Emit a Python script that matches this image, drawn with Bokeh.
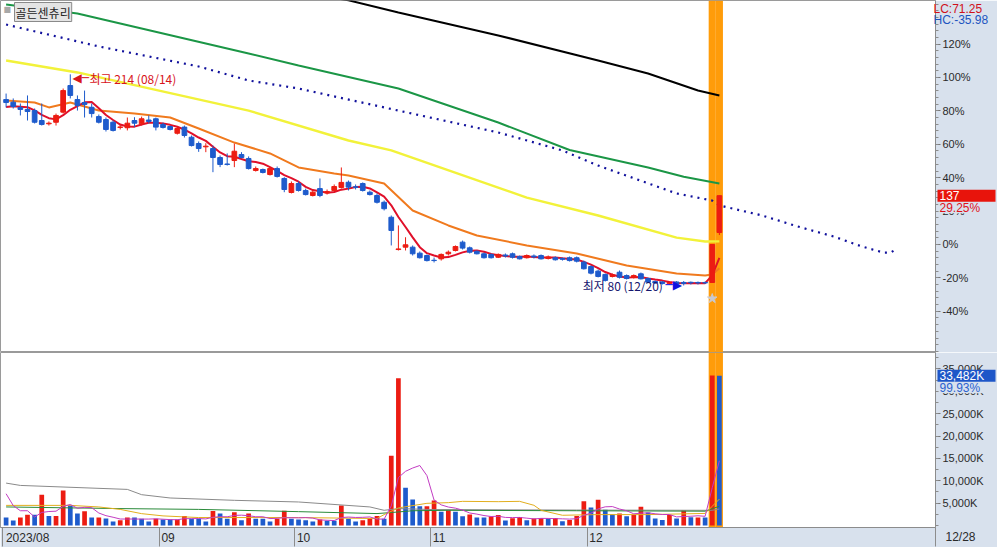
import pandas as pd
from bokeh.plotting import figure
from bokeh.layouts import column
from bokeh.models import Range1d, FixedTicker, Label, ColumnDataSource
from bokeh.core.properties import value
from bokeh.embed import file_html
from bokeh.resources import INLINE

# ---------------- data ----------------
title_text = "골든센츄리"
holidays = ["2023-08-15", "2023-09-28", "2023-09-29", "2023-10-02",
            "2023-10-03", "2023-10-09", "2023-12-25"]
days = [d for d in pd.bdate_range("2023-08-01", "2023-12-28")
        if d.strftime("%Y-%m-%d") not in holidays]

opens = [198.0, 196.3, 193.0, 191.7, 191.0, 184.7, 182.6, 183.6, 190.0, 206.9,
         198.0, 196.1, 193.1, 187.2, 185.3, 183.6, 180.3, 180.1, 184.7, 182.6,
         185.0, 185.8, 182.2, 180.9, 176.6, 180.5, 174.1, 170.1, 168.0, 166.9,
         161.2, 157.1, 159.3, 163.1, 160.6, 153.0, 153.6, 150.4, 154.2, 147.9,
         139.0, 144.7, 140.3, 137.1, 141.5, 138.7, 140.3, 142.2, 145.5, 142.6,
         144.7, 139.2, 137.1, 132.8, 123.3, 102.8, 104.3, 104.3, 100.5, 99.0,
         96.0, 96.9, 100.1, 102.2, 107.5, 103.9, 101.7, 100.1, 99.7, 97.9,
         99.3, 100.1, 98.4, 97.6, 98.7, 99.0, 97.1, 97.6, 97.2, 97.6,
         97.6, 94.8, 92.0, 89.1, 87.0, 85.7, 88.4, 86.3, 85.2, 87.4,
         84.4, 82.5, 82.2, 81.3, 82.2, 81.9, 82.0, 81.9, 81.9, 81.9,
         113.6]
highs = [201.8, 198.7, 195.5, 200.6, 192.3, 195.5, 184.1, 189.1, 205.0, 214.0,
         200.6, 203.7, 195.5, 188.5, 186.6, 184.7, 182.2, 186.6, 186.8, 187.2,
         187.9, 186.6, 183.4, 181.5, 180.9, 181.5, 175.2, 171.4, 170.3, 168.8,
         162.5, 163.8, 170.1, 164.6, 161.9, 155.5, 154.2, 154.9, 155.5, 148.7,
         146.0, 146.0, 141.5, 140.3, 147.9, 140.9, 144.1, 154.9, 146.6, 144.1,
         145.4, 140.3, 138.4, 133.9, 124.4, 118.1, 110.6, 105.4, 101.6, 99.7,
         97.7, 100.3, 102.2, 105.4, 108.5, 104.7, 102.2, 100.9, 100.3, 100.3,
         100.3, 100.9, 99.0, 99.7, 99.7, 99.7, 99.0, 98.4, 97.7, 98.4,
         98.4, 95.8, 92.7, 90.1, 87.6, 87.6, 89.5, 87.0, 87.0, 88.2,
         85.1, 83.2, 82.8, 82.5, 82.8, 82.8, 82.5, 82.5, 82.5, 106.0,
         137.0]
lows = [193.0, 192.3, 187.9, 184.7, 182.8, 181.5, 181.5, 181.5, 189.1, 198.7,
        191.0, 186.6, 186.6, 182.8, 177.7, 177.7, 179.0, 178.4, 180.5, 181.5,
        182.8, 178.4, 179.6, 178.4, 175.8, 173.9, 168.2, 164.8, 164.6, 151.9,
        155.1, 156.1, 155.1, 160.6, 153.6, 152.3, 151.1, 149.8, 148.5, 139.2,
        138.4, 139.6, 137.1, 136.5, 136.0, 137.7, 139.6, 141.5, 140.3, 140.9,
        139.6, 137.1, 132.0, 127.6, 105.4, 102.2, 102.2, 99.0, 97.1, 95.2,
        94.6, 95.8, 99.0, 101.6, 102.8, 100.3, 99.7, 97.1, 97.1, 97.4,
        97.7, 97.1, 96.5, 97.1, 97.1, 96.5, 96.5, 95.8, 95.8, 95.2,
        94.6, 90.1, 87.0, 85.1, 82.5, 85.1, 84.4, 83.8, 84.4, 83.8,
        81.6, 81.0, 80.6, 80.6, 80.6, 80.0, 80.6, 80.6, 81.0, 81.6,
        112.0]
closes = [196.1, 193.6, 191.7, 190.4, 183.6, 182.2, 183.0, 187.9, 203.7, 200.6,
          194.2, 194.9, 189.1, 183.6, 179.0, 178.4, 180.6, 183.0, 183.0, 185.8,
          184.1, 180.5, 180.3, 179.0, 179.6, 175.2, 168.8, 166.9, 168.4, 161.2,
          156.8, 156.8, 165.2, 161.2, 154.2, 154.2, 151.7, 154.2, 149.2, 140.9,
          144.7, 140.3, 137.7, 139.2, 137.1, 139.6, 142.8, 145.4, 142.4, 142.2,
          140.3, 137.7, 132.8, 128.7, 114.9, 103.2, 105.8, 100.1, 97.6, 95.8,
          95.8, 99.7, 101.1, 104.7, 103.7, 101.1, 100.1, 97.6, 97.6, 99.7,
          98.7, 97.9, 96.9, 99.0, 98.1, 96.9, 98.1, 96.3, 96.6, 95.8,
          95.4, 90.6, 87.8, 85.7, 83.2, 86.6, 85.2, 84.4, 86.3, 84.2,
          82.1, 81.6, 81.2, 81.9, 81.2, 81.3, 81.7, 81.6, 81.6, 106.0,
          137.0]
prior_closes = [191.0, 193.0, 192.0, 194.0]   # 4 sessions before the window

# volume in thousands of shares, and bar colour flag (1 = red, 0 = blue)
volumes = [1780, 1100, 1800, 2400, 2400, 6900, 2150, 2150, 7800, 4500,
           2660, 3200, 1800, 1800, 1550, 900, 1200, 1800, 1800, 1500,
           900, 1500, 1350, 1350, 1350, 2100, 1500, 1500, 900, 3250,
           2660, 1500, 2950, 1200, 2660, 1500, 1500, 900, 1500, 3300,
           1500, 1350, 1200, 900, 1350, 1050, 1050, 4500, 1500, 900,
           1200, 1500, 2100, 1500, 15600, 32900, 8450, 5800, 4300, 4300,
           5600, 3050, 3400, 3050, 2070, 2440, 1780, 1780, 2000, 2370,
           1100, 1630, 1930, 1180, 1550, 1700, 1550, 1700, 960, 1260,
           2150, 5400, 4000, 5780, 3550, 2440, 2660, 2070, 2370, 4220,
           2890, 1550, 1260, 2370, 1550, 3330, 1850, 1780, 1780, 33505,
           33482]
vol_red = [0, 0, 1, 1, 0, 1, 0, 1, 1, 0,
           0, 1, 0, 1, 0, 0, 1, 1, 0, 0,
           0, 1, 0, 0, 1, 1, 0, 0, 0, 1,
           0, 0, 1, 0, 1, 0, 0, 0, 1, 1,
           0, 0, 0, 0, 1, 0, 0, 1, 0, 0,
           1, 1, 1, 0, 1, 1, 0, 0, 0, 1,
           1, 0, 1, 0, 0, 1, 0, 0, 1, 1,
           0, 1, 1, 0, 1, 1, 0, 1, 0, 1,
           1, 1, 0, 1, 0, 0, 1, 0, 1, 1,
           0, 0, 0, 1, 0, 1, 0, 1, 0, 1,
           0]
prior_volumes = [14350, 7550, 2400, 9420]

# longer moving-average lines (index, price)
ma20_i = [0, 4, 6, 9, 13, 18, 23, 27, 32, 37, 41, 46, 48, 53, 57, 62, 66, 73, 80, 87, 94, 98, 99, 100]
ma20_v = [197.4, 196.1, 193.0, 196.1, 191.0, 189.1, 186.6, 179.6, 170.7, 163.8, 154.9, 151.1,
          149.8, 144.7, 127.6, 118.1, 111.7, 105.4, 100.3, 92.7, 87.6, 86.3, 87.0, 91.0]
ma60_i = [0, 10, 34, 48, 54, 73, 83, 94, 98, 100]
ma60_v = [222.8, 215.2, 191.0, 172.0, 165.7, 135.8, 124.4, 110.4, 107.9, 108.0]
ma120_i = [0, 10, 34, 41, 55, 69, 79, 90, 95, 100]
ma120_v = [258.3, 252.6, 227.2, 219.6, 205.0, 183.4, 166.0, 154.9, 149.0, 144.7]
ma240_i = [44, 48, 55, 69, 83, 90, 97, 100]
ma240_v = [264.0, 261.0, 253.3, 238.7, 222.8, 214.5, 203.7, 200.6]
lead_i = [0, 13, 27, 34, 41, 55, 69, 78, 83, 94, 99, 100, 106, 111, 116, 120, 123, 124, 125]
lead_v = [245.6, 231.7, 219.0, 210.1, 205.0, 191.0, 177.1, 165.7, 156.1, 138.4, 133.9,
          130.8, 124.4, 117.4, 111.1, 104.7, 100.9, 100.9, 103.5]

# volume average lines (index, thousands)
vma20_i = [0, 9, 13, 16, 19, 22, 27, 41, 52, 53, 55, 59, 62, 64, 69, 72, 74, 75, 78, 83, 90, 98, 99, 100]
vma20_v = [4500, 4500, 4150, 3600, 2650, 2150, 1780, 1780, 1560, 2440, 3930, 4960, 5110,
           5400, 5330, 5400, 4520, 3400, 2290, 2440, 2440, 2700, 4300, 5900]
vma60_i = [0, 15, 27, 41, 52, 54, 57, 62, 80, 98, 100]
vma60_v = [4150, 3800, 3600, 3100, 2670, 2900, 3300, 3400, 3300, 3200, 4300]
vma120_i = [0, 2, 17, 19, 23, 32, 41, 51, 53, 55, 60, 80, 99, 100]
vma120_v = [9480, 8960, 8070, 6890, 6150, 5630, 5260, 4150, 3400, 3780, 3560, 3450, 3400, 3700]

band_idx = [99, 100]          # highlighted sessions
star_idx = [99]
star_val = [71.7]

pct_ticks = [-40, -20, 0, 20, 40, 60, 80, 100, 120]
vol_ticks = [5000, 10000, 15000, 20000, 25000, 30000, 35000]

# ---------------- derived values ----------------
n = len(closes)
idx = list(range(n))
base = closes[-2]
ma5 = pd.Series(prior_closes + closes).rolling(5).mean().iloc[4:].tolist()
vma5 = pd.Series(prior_volumes + volumes).rolling(5).mean().iloc[4:].tolist()
hi_i = max(idx, key=lambda i: highs[i])
lo_i = min(idx, key=lambda i: lows[i])
lc = (closes[-1] / lows[lo_i] - 1) * 100
hc = (closes[-1] / highs[hi_i] - 1) * 100
chg = (closes[-1] / base - 1) * 100
vchg = volumes[-1] / volumes[-2] * 100

# ---------------- layout / style ----------------
W = 997                        # total width (px)
AXW = 62                       # right axis zone width (px)
FW = W - AXW                   # plot-frame width (px)
PFH, VFH, BAND = 352, 176, 19  # price frame, volume frame, date band heights
AX_BG = "#d8e1ed"
RED, BLUE = "#ec1c12", "#1e5bcc"
ORANGE_BAND = "#ff9c0a"
KFONT = "Noto Sans CJK KR"
NFONT = "Liberation Sans"

xr = Range1d(-0.785, 130.3)
px_per_idx = FW / (xr.end - xr.start)
price_lo = base * (1 - 64.67 / 100)
price_hi = base * (1 + 146.1 / 100)
vol_lo, vol_hi = -444, 38667
upp_p = (price_hi - price_lo) / PFH           # price units per pixel
upp_v = (vol_hi - vol_lo) / VFH               # volume units per pixel


def ax_x(px):
    """data x of a point px pixels right of the plot frame (axis zone)"""
    return xr.end + px / px_per_idx


def add_label(fig, text, x, y, color="#222222", size="11px", font=NFONT,
              align="left", baseline="middle", bg=None, border=None,
              x_off=0, y_off=0, pad=None, units="data"):
    kw = dict(x=x, y=y, x_units=units, y_units=units, text=text, text_color=color,
              text_font_size=size, text_font=font, text_align=align,
              text_baseline=baseline, x_offset=x_off, y_offset=y_off)
    if bg:
        kw["background_fill_color"] = bg
    if border:
        kw["border_line_color"] = border
    if pad is not None:
        kw["padding"] = pad
    fig.add_layout(Label(**kw))


def side_rect(fig, y, fill, width_px, height_px, left_px=2):
    fig.rect(x=[ax_x(left_px + width_px / 2)], y=[y], width=width_px, height=height_px,
             width_units="screen", height_units="screen", fill_color=fill,
             line_color=None, level="overlay")


def side_text(fig, x, y, text, color, size="11px", font=NFONT):
    fig.text(x=[x], y=[y], text=[text], text_color=color, text_font_size=size,
             text_font=value(font), text_align="left", text_baseline="middle",
             level="overlay")


def style_right_axis(ax):
    ax.axis_line_color = "#8c8c8c"
    ax.major_tick_line_color = "#777777"
    ax.minor_tick_line_color = "#8c8c8c"
    ax.major_tick_out = 5
    ax.major_tick_in = 0
    ax.minor_tick_out = 3
    ax.minor_tick_in = 0
    ax.major_label_standoff = 2
    ax.major_label_text_font = NFONT
    ax.major_label_text_font_size = "11px"
    ax.major_label_text_color = "#2a2a2a"


# ---------------- price panel ----------------
p = figure(width=W, height=PFH, x_range=xr, y_range=Range1d(price_lo, price_hi),
           output_backend="svg", toolbar_location=None,
           x_axis_location=None, y_axis_location="right",
           min_border_left=0, min_border_top=0, min_border_bottom=0, min_border_right=AXW)
p.border_fill_color = AX_BG
p.background_fill_color = "white"
p.outline_line_color = "#9a9a9a"
p.xgrid.visible = False
p.ygrid.visible = False

tick_prices = [round(base * (1 + t / 100), 6) for t in pct_ticks]
minor_prices = [round(base * (1 + t / 100), 6) for t in range(-64, 148, 4)]
ya = p.yaxis[0]
ya.ticker = FixedTicker(ticks=tick_prices, minor_ticks=minor_prices)
ya.major_label_overrides = {tp: f"{t}%" for tp, t in zip(tick_prices, pct_ticks)}
style_right_axis(ya)

p.vbar(x=band_idx, width=1.0, bottom=price_lo, top=price_hi,
       fill_color=ORANGE_BAND, line_color=None)

p.line(lead_i, lead_v, color="#10109c", line_width=2.2, line_dash="2 5")
p.line(ma240_i, ma240_v, color="#000000", line_width=2)
p.line(ma120_i, ma120_v, color="#1b9646", line_width=2)
p.line(ma60_i, ma60_v, color="#f2f23a", line_width=2.4)
p.line(ma20_i, ma20_v, color="#f07a1e", line_width=2)
p.line(idx, ma5, color="#e0102a", line_width=2)

ccol = [RED if c >= o else BLUE for o, c in zip(opens, closes)]
csrc = ColumnDataSource(dict(i=idx, h=highs, l=lows,
                             top=[max(o, c) for o, c in zip(opens, closes)],
                             bot=[min(o, c) for o, c in zip(opens, closes)],
                             col=ccol))
p.segment("i", "h", "i", "l", color="col", line_width=1, source=csrc)
p.vbar(x="i", width=0.66, top="top", bottom="bot", fill_color="col",
       line_color="col", line_width=1, source=csrc)

p.scatter(star_idx, star_val, marker="star", size=10, color="#c9c9cf")

# high / low callouts
add_label(p, "◀─", hi_i + 0.3, highs[hi_i], color="#d8141c",
          size="12px", font="DejaVu Sans", y_off=-4)
add_label(p, f"최고 {highs[hi_i]:.0f} ({days[hi_i].strftime('%m/%d')})", hi_i + 0.3,
          highs[hi_i], color="#d8141c", size="12px", font=KFONT, x_off=17, y_off=-4)
add_label(p, "─▶", lo_i - 0.25, lows[lo_i], color="#1010e0",
          size="12px", font="DejaVu Sans", align="right")
add_label(p, f"최저 {lows[lo_i]:.0f} ({days[lo_i].strftime('%m/%d')})", lo_i - 0.25,
          lows[lo_i], color="#16166e", size="12px", font=KFONT, align="right", x_off=-19)

# title box
add_label(p, "■", 3, PFH - 9, color="#a8a8a8", size="8px", font="DejaVu Sans", units="screen")
add_label(p, title_text, 14, PFH - 2, color="#1e1e1e", size="12px", font=KFONT,
          baseline="top", bg="#e4e4e4", border="#8a8a8a", pad=1, units="screen")

# right-axis annotations
side_text(p, ax_x(-2), price_hi - 8 * upp_p, f"LC:{lc:.2f}", "#d0101a", size="12px")
side_text(p, ax_x(-2), price_hi - 19 * upp_p, f"HC:{hc:.2f}", "#1c54c0", size="12px")
side_rect(p, closes[-1], "#e8140c", 58, 12)
side_text(p, ax_x(4), closes[-1], f"{closes[-1]:.0f}", "white", size="12px")
side_rect(p, closes[-1] - 12 * upp_p, AX_BG, 56, 11, left_px=3)
side_text(p, ax_x(4), closes[-1] - 12 * upp_p, f"{chg:.2f}%", "#e0101a", size="12px")

# ---------------- volume panel ----------------
v = figure(width=W, height=VFH + BAND, x_range=xr, y_range=Range1d(vol_lo, vol_hi),
           output_backend="svg", toolbar_location=None,
           x_axis_location="below", y_axis_location="right",
           min_border_left=0, min_border_top=0, min_border_bottom=BAND, min_border_right=AXW)
v.border_fill_color = AX_BG
v.background_fill_color = "white"
v.outline_line_color = "#9a9a9a"
v.xgrid.visible = False
v.ygrid.visible = False

vy = v.yaxis[0]
vy.ticker = FixedTicker(ticks=vol_ticks, minor_ticks=list(range(0, 40000, 2500)))
vy.major_label_overrides = {t: f"{t:,}K" for t in vol_ticks}
style_right_axis(vy)

month_start = []
for i, d in enumerate(days):
    if i == 0 or d.month != days[i - 1].month:
        month_start.append(i)
month_labels = [days[i].strftime("%Y/%m") if k == 0 else days[i].strftime("%m")
                for k, i in enumerate(month_start)]
bounds = [i - 0.5 for i in month_start]
label_pos = [round(b + (2 + 3.3 * len(t)) / px_per_idx, 4) for b, t in zip(bounds, month_labels)]
xa = v.xaxis[0]
xa.ticker = FixedTicker(ticks=label_pos, minor_ticks=bounds + [xr.end - 0.02])
xa.major_label_overrides = {pos: t for pos, t in zip(label_pos, month_labels)}
xa.major_tick_out = 0
xa.major_tick_in = 0
xa.minor_tick_out = BAND
xa.minor_tick_in = 0
xa.minor_tick_line_color = "#8c8c8c"
xa.axis_line_color = "#8c8c8c"
xa.major_label_standoff = 3 - BAND
xa.major_label_text_font = NFONT
xa.major_label_text_font_size = "12px"
xa.major_label_text_color = "#2a2a2a"

v.vbar(x=band_idx, width=1.0, bottom=vol_lo, top=vol_hi, fill_color=ORANGE_BAND, line_color=None)
vsrc = ColumnDataSource(dict(i=idx, vol=volumes, col=[RED if r else BLUE for r in vol_red]))
v.vbar(x="i", width=0.66, top="vol", bottom=0, fill_color="col", line_color=None, source=vsrc)

v.line(vma120_i, vma120_v, color="#8a8a8a", line_width=1)
v.line(vma60_i, vma60_v, color="#2a8a3a", line_width=1)
v.line(vma20_i, vma20_v, color="#e2ae1e", line_width=1)
v.line(idx, vma5, color="#c23cc2", line_width=1)

side_rect(v, volumes[-1], "#1e56c8", 58, 12)
side_text(v, ax_x(4), volumes[-1], f"{volumes[-1]:,}K", "white", size="12px")
side_rect(v, volumes[-1] - 12 * upp_v, AX_BG, 56, 11, left_px=3)
side_text(v, ax_x(4), volumes[-1] - 12 * upp_v, f"{vchg:.2f}%", "#2a62d0", size="12px")
side_text(v, ax_x(10), vol_lo - 9.5 * upp_v, days[-1].strftime("%m/%d"), "#2a2a2a", size="12px")

layout = column(p, v, spacing=0)
open("out.html", "w").write(file_html(layout, INLINE))
